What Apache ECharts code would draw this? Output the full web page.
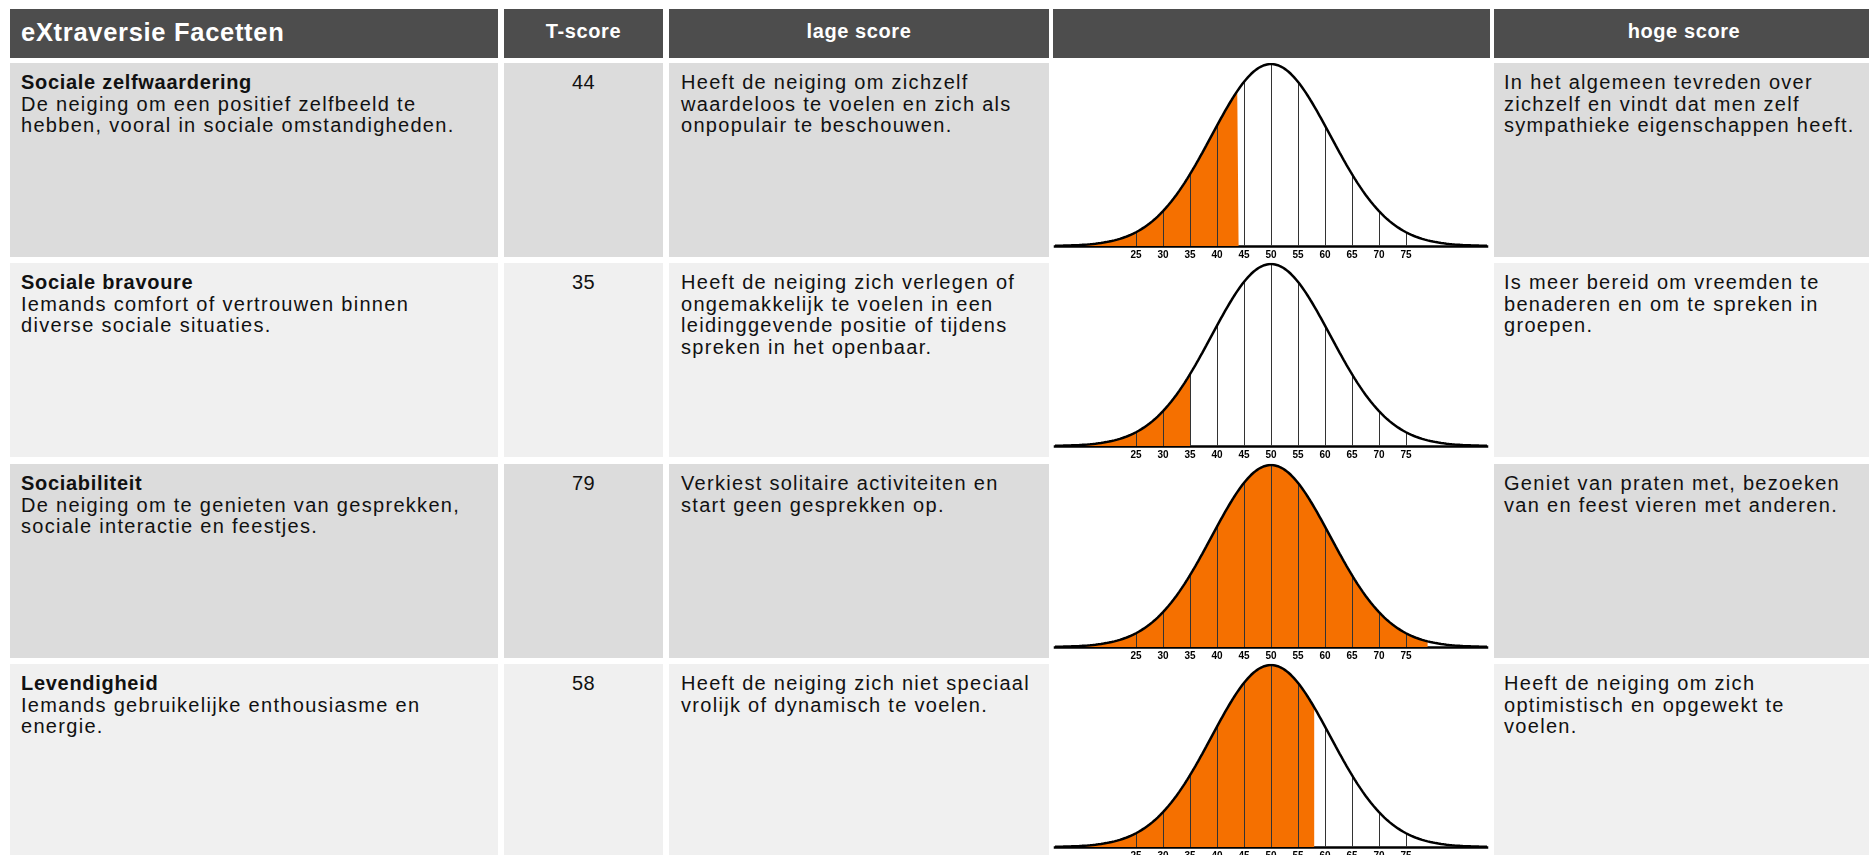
<!DOCTYPE html>
<html>
<head>
<meta charset="utf-8">
<script src="https://cdn.jsdelivr.net/npm/echarts@6/dist/echarts.min.js"></script>
<style>
  html, body { margin: 0; padding: 0; background: #fff; }
  body { width: 1869px; height: 855px; overflow: hidden; position: relative;
         font-family: "Liberation Sans", Arial, sans-serif; color: #111; }
  .cell { position: absolute; box-sizing: border-box; white-space: pre-line; }
  .hd { background: #4d4d4d; color: #fff; font-weight: bold; font-size: 20px;
        letter-spacing: 0.6px; text-align: center; line-height: 44px; }
  .hd.first { text-align: left; font-size: 25.5px; padding-left: 11px; letter-spacing: 0.7px; line-height: 46px; }
  .body { font-size: 20px; line-height: 21.5px; letter-spacing: 1.3px; padding-top: 9px; }
  .title { font-weight: bold; letter-spacing: 0.7px; }
  #chart { position: absolute; left: 1052px; top: 63px; width: 438px; height: 820px; }
</style>
</head>
<body>
<div id="table"></div>
<div id="chart"></div>
<script>
// ---- data ----
const headers = ['eXtraversie Facetten', 'T-score', 'lage score', '', 'hoge score'];
const facets = ['Sociale zelfwaardering', 'Sociale bravoure', 'Sociabiliteit', 'Levendigheid'];
const descriptions = [
  'De neiging om een positief zelfbeeld te\nhebben, vooral in sociale omstandigheden.',
  'Iemands comfort of vertrouwen binnen\ndiverse sociale situaties.',
  'De neiging om te genieten van gesprekken,\nsociale interactie en feestjes.',
  'Iemands gebruikelijke enthousiasme en\nenergie.'
];
const tScores = [44, 35, 79, 58];
const lowTexts = [
  'Heeft de neiging om zichzelf\nwaardeloos te voelen en zich als\nonpopulair te beschouwen.',
  'Heeft de neiging zich verlegen of\nongemakkelijk te voelen in een\nleidinggevende positie of tijdens\nspreken in het openbaar.',
  'Verkiest solitaire activiteiten en\nstart geen gesprekken op.',
  'Heeft de neiging zich niet speciaal\nvrolijk of dynamisch te voelen.'
];
const highTexts = [
  'In het algemeen tevreden over\nzichzelf en vindt dat men zelf\nsympathieke eigenschappen heeft.',
  'Is meer bereid om vreemden te\nbenaderen en om te spreken in\ngroepen.',
  'Geniet van praten met, bezoeken\nvan en feest vieren met anderen.',
  'Heeft de neiging om zich\noptimistisch en opgewekt te\nvoelen.'
];
const tickLabels = [25, 30, 35, 40, 45, 50, 55, 60, 65, 70, 75];
const axisMin = 10, axisMax = 90;
const normMean = 50, normSd = 11;

// ---- layout (table) ----
const colLeft = [10, 504, 669, 1053, 1494];
const colWidth = [488, 159, 380, 437, 380];
const rowTop = [63, 263, 464, 664];
const rowHeight = 194;
const rowBg = ['#dcdcdc', '#f0f0f0', '#dcdcdc', '#f0f0f0'];

const table = document.getElementById('table');
function addCell(cls, left, top, width, height, bg, html, extra) {
  const d = document.createElement('div');
  d.className = 'cell ' + cls;
  d.style.left = left + 'px'; d.style.top = top + 'px';
  d.style.width = width + 'px'; d.style.height = height + 'px';
  if (bg) d.style.background = bg;
  if (extra) Object.assign(d.style, extra);
  d.innerHTML = html;
  table.appendChild(d);
  return d;
}
function esc(s) { return s.replace(/&/g, '&amp;').replace(/</g, '&lt;'); }

headers.forEach((h, i) => {
  addCell('hd' + (i === 0 ? ' first' : ''), colLeft[i], 9, colWidth[i], 49, null, esc(h));
});
facets.forEach((f, r) => {
  const top = rowTop[r];
  addCell('body', colLeft[0], top, colWidth[0], rowHeight, rowBg[r],
    '<span class="title">' + esc(f) + '</span>\n' + esc(descriptions[r]), { paddingLeft: '11px' });
  addCell('body', colLeft[1], top, colWidth[1], rowHeight, rowBg[r],
    String(tScores[r]), { textAlign: 'center', letterSpacing: '0.5px' });
  addCell('body', colLeft[2], top, colWidth[2], rowHeight, rowBg[r],
    esc(lowTexts[r]), { paddingLeft: '12px' });
  addCell('body', colLeft[4], top, colWidth[4], rowHeight, rowBg[r],
    esc(highTexts[r]), { paddingLeft: '10px' });
});

// ---- charts ----
function pdf(x) { const z = (x - normMean) / normSd; return Math.exp(-0.5 * z * z); }
function curvePoints(from, to) {
  const pts = [];
  for (let x = from; x < to; x += 0.25) pts.push([x, pdf(x)]);
  pts.push([to, pdf(to)]);
  return pts;
}
const chart = echarts.init(document.getElementById('chart'), null, { renderer: 'canvas' });
const grids = [], xAxes = [], yAxes = [], series = [];
rowTop.forEach((t, i) => {
  grids.push({ left: 0, width: 438, top: t - 63 + 1, height: 182 });
  xAxes.push({
    type: 'value', gridIndex: i, min: axisMin, max: axisMax, interval: 5,
    axisLine: { show: true, lineStyle: { color: '#000', width: 2.5, cap: 'square' } },
    axisTick: { show: false }, splitLine: { show: false },
    axisLabel: {
      show: true, margin: 4, color: '#000', fontSize: 10, fontWeight: 'bold',
      fontFamily: '"Liberation Sans Narrow", "Liberation Sans", Arial, sans-serif',
      formatter: v => tickLabels.indexOf(v) >= 0 ? String(v) : ''
    }
  });
  yAxes.push({ type: 'value', gridIndex: i, min: 0, max: 1, show: false });
  series.push({
    type: 'line', xAxisIndex: i, yAxisIndex: i, data: curvePoints(axisMin, tScores[i]),
    showSymbol: false, lineStyle: { width: 0, opacity: 0 },
    areaStyle: { color: '#f57000', opacity: 1 }, z: 1, silent: true
  });
  series.push({
    type: 'custom', xAxisIndex: i, yAxisIndex: i,
    data: tickLabels.map(x => [x, pdf(x)]),
    renderItem: (params, api) => {
      const x = api.value(0);
      const p0 = api.coord([x, 0]);
      const p1 = api.coord([x, api.value(1)]);
      const px = Math.round(p0[0]) + 0.5;
      return { type: 'line', shape: { x1: px, y1: p0[1], x2: px, y2: p1[1] },
               style: { stroke: '#333', lineWidth: 1 } };
    },
    z: 2, silent: true
  });
  series.push({
    type: 'line', xAxisIndex: i, yAxisIndex: i, data: curvePoints(axisMin, axisMax),
    showSymbol: false, lineStyle: { color: '#000', width: 2.5 }, z: 3, silent: true
  });
});
chart.setOption({ animation: false, grid: grids, xAxis: xAxes, yAxis: yAxes, series: series });
</script>
</body>
</html>
